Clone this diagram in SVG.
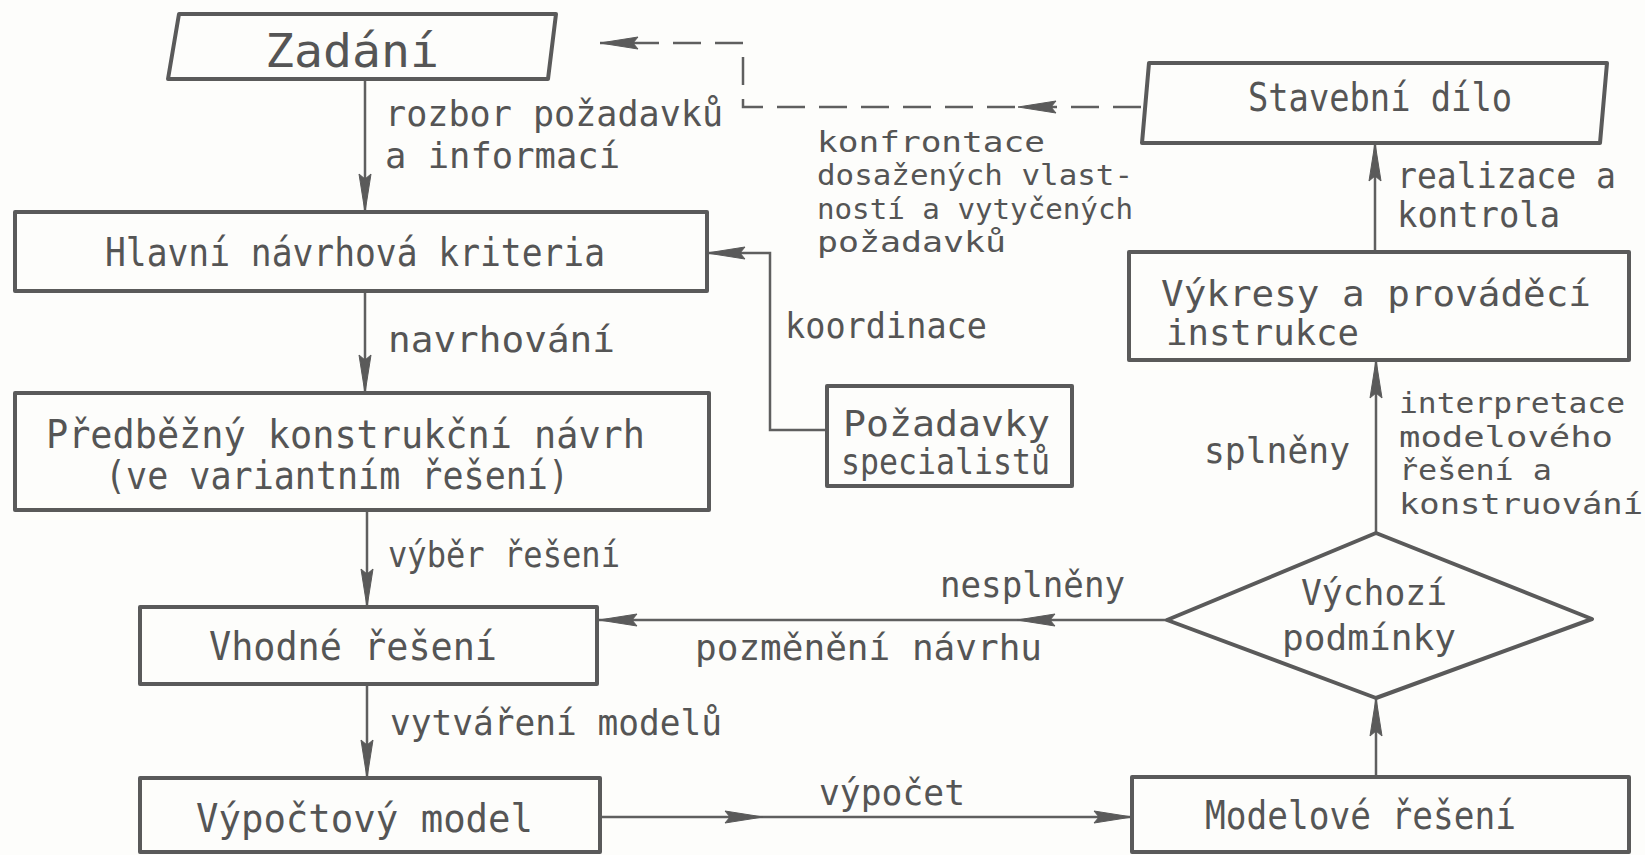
<svg xmlns="http://www.w3.org/2000/svg" xmlns:xlink="http://www.w3.org/1999/xlink" width="1645" height="855" viewBox="0 0 1645 855">
  <style>
    .box { fill: none; stroke: #5a5a5a; stroke-width: 4; stroke-linejoin: round; }
    .line { fill: none; stroke: #5f5f5f; stroke-width: 2.5; }
    .dash { fill: none; stroke: #5f5f5f; stroke-width: 2.5; stroke-dasharray: 28 14; }
    .ah { fill: #5a5a5a; stroke: #5a5a5a; stroke-width: 1; stroke-linejoin: round; }
    text { font-family: "DejaVu Sans Mono", "Liberation Mono", monospace; fill: #555; }
    .lbl { font-size: 36px; }
    .stk { font-size: 29px; }
    .ttl { font-size: 39px; }
    .two { font-size: 35px; }
    .big { font-size: 46px; }
  </style>
  <defs>
    <!-- long slim arrowhead, tip at origin, pointing along +x -->
    <path id="ah" class="ah" d="M0,0 L-38,-6 L-33,0 L-38,6 Z"/>
  </defs>

  <rect width="1645" height="855" fill="#fdfdfb"/>

  <!-- connectors -->
  <g id="connectors">
    <!-- Zadani -> Hlavni -->
    <line class="line" x1="365" y1="79" x2="365" y2="212"/>
    <use xlink:href="#ah" transform="translate(365,212) rotate(90)"/>
    <!-- Hlavni -> Predbezny -->
    <line class="line" x1="365" y1="291" x2="365" y2="393"/>
    <use xlink:href="#ah" transform="translate(365,393) rotate(90)"/>
    <!-- Predbezny -> Vhodne -->
    <line class="line" x1="367" y1="510" x2="367" y2="607"/>
    <use xlink:href="#ah" transform="translate(367,607) rotate(90)"/>
    <!-- Vhodne -> Vypoctovy -->
    <line class="line" x1="367" y1="684" x2="367" y2="778"/>
    <use xlink:href="#ah" transform="translate(367,778) rotate(90)"/>
    <!-- Vypoctovy -> Modelove -->
    <line class="line" x1="600" y1="817" x2="1132" y2="817"/>
    <use xlink:href="#ah" transform="translate(763,817)"/>
    <use xlink:href="#ah" transform="translate(1132,817)"/>
    <!-- Modelove -> Vychozi -->
    <line class="line" x1="1376" y1="777" x2="1376" y2="698"/>
    <use xlink:href="#ah" transform="translate(1376,698) rotate(-90)"/>
    <!-- Vychozi -> Vhodne (nesplneny) -->
    <line class="line" x1="1167" y1="620" x2="597" y2="620"/>
    <use xlink:href="#ah" transform="translate(1017,620) rotate(180)"/>
    <use xlink:href="#ah" transform="translate(599,620) rotate(180)"/>
    <!-- Vychozi -> Vykresy (splneny) -->
    <line class="line" x1="1376" y1="533" x2="1376" y2="360"/>
    <use xlink:href="#ah" transform="translate(1376,360) rotate(-90)"/>
    <!-- Vykresy -> Stavebni -->
    <line class="line" x1="1375" y1="252" x2="1375" y2="143"/>
    <use xlink:href="#ah" transform="translate(1375,143) rotate(-90)"/>
    <!-- Pozadavky -> Hlavni (koordinace) -->
    <polyline class="line" points="827,430 770,430 770,253 707,253"/>
    <use xlink:href="#ah" transform="translate(707,253) rotate(180)"/>
    <!-- Stavebni -> Zadani, dashed feedback -->
    <polyline class="dash" points="1141,107 743,107 743,43 600,43"/>
    <use xlink:href="#ah" transform="translate(1018,107) rotate(180)"/>
    <use xlink:href="#ah" transform="translate(600,43) rotate(180)"/>

    <!-- connector labels -->
    <text class="lbl" x="385" y="126" textLength="338" lengthAdjust="spacingAndGlyphs">rozbor požadavků</text>
    <text class="lbl" x="385" y="168" textLength="235" lengthAdjust="spacingAndGlyphs">a informací</text>
    <text class="lbl" x="388" y="352" textLength="227" lengthAdjust="spacingAndGlyphs">navrhování</text>
    <text class="lbl" x="388" y="567" textLength="232" lengthAdjust="spacingAndGlyphs">výběr řešení</text>
    <text class="lbl" x="390" y="735" textLength="332" lengthAdjust="spacingAndGlyphs">vytváření modelů</text>
    <text class="lbl" x="819" y="805" textLength="146" lengthAdjust="spacingAndGlyphs">výpočet</text>
    <text class="lbl" x="940" y="597" textLength="185" lengthAdjust="spacingAndGlyphs">nesplněny</text>
    <text class="lbl" x="695" y="660" textLength="347" lengthAdjust="spacingAndGlyphs">pozměnění návrhu</text>
    <text class="lbl" x="1204" y="463" textLength="146" lengthAdjust="spacingAndGlyphs">splněny</text>
    <text class="stk" x="1399" y="413" textLength="226" lengthAdjust="spacingAndGlyphs">interpretace</text>
    <text class="stk" x="1399" y="447" textLength="214" lengthAdjust="spacingAndGlyphs">modelového</text>
    <text class="stk" x="1399" y="480" textLength="153" lengthAdjust="spacingAndGlyphs">řešení a</text>
    <text class="stk" x="1399" y="514" textLength="244" lengthAdjust="spacingAndGlyphs">konstruování</text>
    <text class="lbl" x="1397" y="188" textLength="219" lengthAdjust="spacingAndGlyphs">realizace a</text>
    <text class="lbl" x="1397" y="227" textLength="163" lengthAdjust="spacingAndGlyphs">kontrola</text>
    <text class="lbl" x="785" y="338" textLength="202" lengthAdjust="spacingAndGlyphs">koordinace</text>
    <text class="stk" x="817" y="152" textLength="228" lengthAdjust="spacingAndGlyphs">konfrontace</text>
    <text class="stk" x="817" y="185" textLength="316" lengthAdjust="spacingAndGlyphs">dosažených vlast-</text>
    <text class="stk" x="817" y="219" textLength="316" lengthAdjust="spacingAndGlyphs">ností a vytyčených</text>
    <text class="stk" x="817" y="252" textLength="189" lengthAdjust="spacingAndGlyphs">požadavků</text>
  </g>

  <!-- nodes -->
  <g id="zadani">
    <polygon class="box" points="179,14 556,14 548,79 168,79"/>
    <text class="big" x="265" y="67" textLength="174" lengthAdjust="spacingAndGlyphs">Zadání</text>
  </g>
  <g id="hlavni-kriteria">
    <rect class="box" x="15" y="212" width="692" height="79"/>
    <text class="ttl" x="105" y="266" textLength="500" lengthAdjust="spacingAndGlyphs">Hlavní návrhová kriteria</text>
  </g>
  <g id="predbezny-navrh">
    <rect class="box" x="15" y="393" width="694" height="117"/>
    <text class="ttl" x="46" y="448" textLength="599" lengthAdjust="spacingAndGlyphs">Předběžný konstrukční návrh</text>
    <text class="ttl" x="105" y="489" textLength="464" lengthAdjust="spacingAndGlyphs">(ve variantním řešení)</text>
  </g>
  <g id="pozadavky-specialistu">
    <rect class="box" x="827" y="386" width="245" height="100"/>
    <text class="two" x="843" y="436" textLength="207" lengthAdjust="spacingAndGlyphs">Požadavky</text>
    <text class="two" x="841" y="474" textLength="209" lengthAdjust="spacingAndGlyphs">specialistů</text>
  </g>
  <g id="vhodne-reseni">
    <rect class="box" x="140" y="607" width="457" height="77"/>
    <text class="ttl" x="209" y="660" textLength="288" lengthAdjust="spacingAndGlyphs">Vhodné řešení</text>
  </g>
  <g id="vypoctovy-model">
    <rect class="box" x="140" y="778" width="460" height="74"/>
    <text class="ttl" x="196" y="832" textLength="337" lengthAdjust="spacingAndGlyphs">Výpočtový model</text>
  </g>
  <g id="modelove-reseni">
    <rect class="box" x="1132" y="777" width="497" height="75"/>
    <text class="ttl" x="1205" y="829" textLength="311" lengthAdjust="spacingAndGlyphs">Modelové řešení</text>
  </g>
  <g id="vychozi-podminky">
    <polygon class="box" points="1376,533 1592,619 1376,698 1167,620"/>
    <text class="two" x="1301" y="605" textLength="146" lengthAdjust="spacingAndGlyphs">Výchozí</text>
    <text class="two" x="1282" y="650" textLength="174" lengthAdjust="spacingAndGlyphs">podmínky</text>
  </g>
  <g id="vykresy">
    <rect class="box" x="1129" y="252" width="500" height="108"/>
    <text class="two" x="1161" y="306" textLength="430" lengthAdjust="spacingAndGlyphs">Výkresy a prováděcí</text>
    <text class="two" x="1166" y="345" textLength="193" lengthAdjust="spacingAndGlyphs">instrukce</text>
  </g>
  <g id="stavebni-dilo">
    <polygon class="box" points="1149,63 1607,63 1600,143 1142,143"/>
    <text class="ttl" x="1248" y="111" textLength="264" lengthAdjust="spacingAndGlyphs">Stavební dílo</text>
  </g>
</svg>
